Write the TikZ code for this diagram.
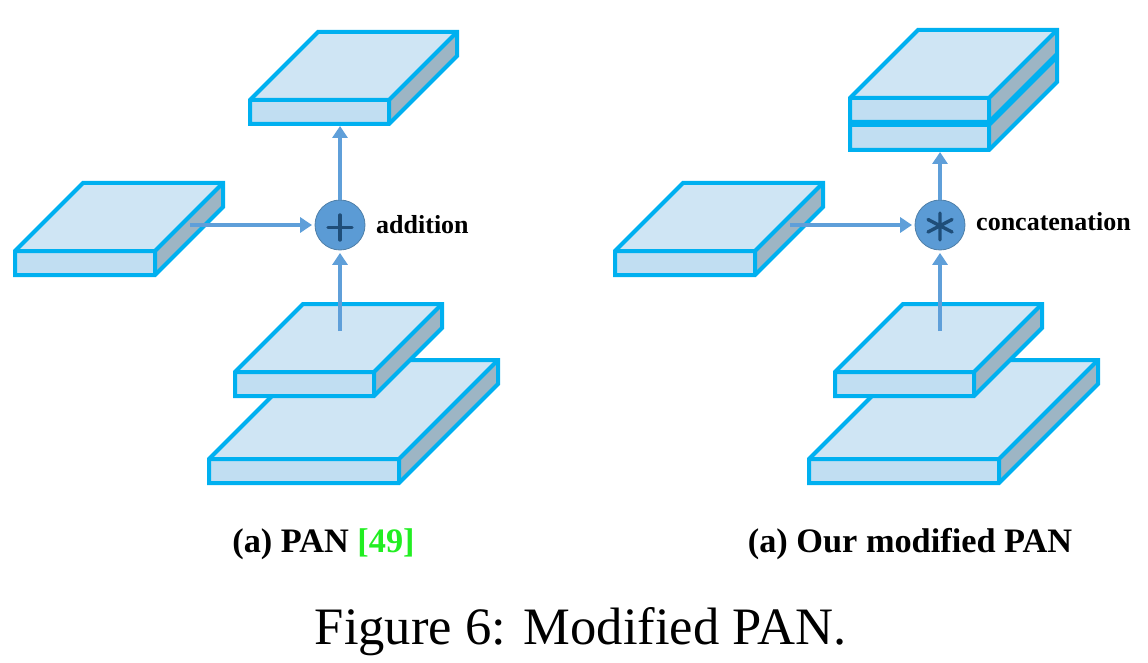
\documentclass[tikz,border=0pt]{standalone}
\usepackage{fontspec}
\setmainfont{Liberation Serif}
\definecolor{edgeblue}{HTML}{00B0F0}
\definecolor{topfill}{HTML}{CFE5F4}
\definecolor{frontfill}{HTML}{C1DEF2}
\definecolor{sidefill}{HTML}{9DB5C4}
\definecolor{arrowblue}{HTML}{5F9FD9}
\definecolor{opfill}{HTML}{5B9BD5}
\definecolor{opedge}{HTML}{4F7FA8}
\definecolor{opsign}{HTML}{1F4E79}
\definecolor{citegreen}{HTML}{22EE22}
\usetikzlibrary{arrows.meta}
\tikzset{
  plateline/.style={draw=edgeblue,line width=4pt,line join=miter},
  flow/.style={draw=arrowblue,line width=4pt,-{Triangle[length=12pt,width=15pt]}},
  flowin/.style={flow,shorten >=2.5pt},
  opnode/.style={circle,fill=opfill,draw=opedge,line width=0.8pt,minimum size=50pt,inner sep=0pt},
  opsignline/.style={draw=opsign,line width=3.4pt,line cap=round},
  oplabel/.style={font=\bfseries\fontsize{26}{30}\selectfont,anchor=west,inner sep=0pt},
  subcap/.style={font=\bfseries\fontsize{34.3}{38}\selectfont,inner sep=0pt},
  figcap/.style={font=\fontsize{52.6}{60}\selectfont,inner sep=0pt}
}
% x y w h dx dy : front top-left, front size, depth
\newcommand{\plate}[6]{%
  \fill[topfill] (#1,#2) -- ++(#5,-#6) -- ++(#3,0) -- ++(-#5,#6) -- cycle;
  \fill[frontfill] (#1,#2) rectangle ++(#3,#4);
  \fill[sidefill] (#1+#3,#2) -- ++(#5,-#6) -- ++(0,#4) -- ++(-#5,#6) -- cycle;
  \draw[plateline] (#1,#2) -- ++(#5,-#6) -- ++(#3,0) -- ++(0,#4) -- ++(-#5,#6) -- ++(-#3,0) -- cycle;
  \draw[plateline] (#1,#2) -- ++(#3,0) -- ++(0,#4) (#1+#3,#2) -- ++(#5,-#6);
}
\begin{document}
\begin{tikzpicture}[x=1pt,y=-1pt]
\useasboundingbox (0,0) rectangle (1148,663);
% left figure
\plate{209}{459}{190}{24}{99}{99}
\plate{235}{372}{139}{24}{68}{68}
\plate{15}{251}{140}{24}{68}{68}
\plate{250}{100}{139}{24}{68}{68}
% right figure
\plate{809}{459}{190}{24}{99}{99}
\plate{835}{372}{139}{24}{68}{68}
\plate{615}{251}{140}{24}{68}{68}
\plate{850}{125}{139}{25}{68}{68}
\plate{850}{98}{139}{24}{68}{68}
% operators
\node[opnode] (add) at (340,225) {};
\node[opnode] (cat) at (940,225) {};
\draw[opsignline] (328,227.5) -- (352,227.5) (340,215) -- (340,240);
\draw[opsignline] (940,213) -- (940,240) (928,219.5) -- (952,232) (928,232) -- (952,219.5);
% free ends
\coordinate (addW) at (190,225);
\coordinate (addS) at (340,331);
\coordinate (addN) at (340,126);
\coordinate (catW) at (790,225);
\coordinate (catS) at (940,331);
\coordinate (catN) at (940,152);
\draw[flowin] (addW) -- (add.west);
\draw[flowin] (addS) -- (add.south);
\draw[flow] (add.north) -- (addN);
\draw[flowin] (catW) -- (cat.west);
\draw[flowin] (catS) -- (cat.south);
\draw[flow] (cat.north) -- (catN);
% labels
\node[oplabel] (addl) at (376,225) {addition};
\node[oplabel] (catl) at (976,222) {concatenation};
\node[subcap] (capa) at (323.5,544) {(a) PAN \textcolor{citegreen}{[49]}};
\node[subcap] (capb) at (910,544) {(a) Our modified PAN};
\node[figcap] (fig) at (580.5,632) {Figure 6: Modified PAN.};
\end{tikzpicture}
\end{document}
